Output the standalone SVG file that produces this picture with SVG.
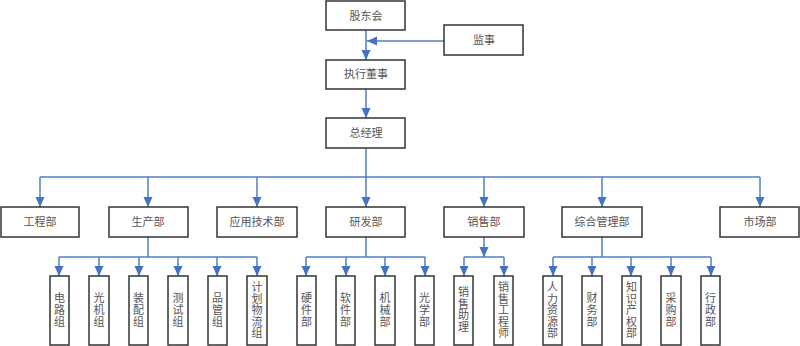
<svg xmlns="http://www.w3.org/2000/svg" width="800" height="346" viewBox="0 0 800 346">
<style>
.box{fill:#ffffff;stroke:#333333;stroke-width:1.5}
.t{font-family:"Liberation Serif","Noto Sans CJK SC",serif;font-size:11px;fill:#555555;text-anchor:middle;dominant-baseline:central}
.c{fill:none;stroke:#4F81BD;stroke-width:1.5}
.a{marker-end:url(#ah)}
</style>
<defs>
<marker id="ah" markerUnits="userSpaceOnUse" markerWidth="10" markerHeight="10" refX="10" refY="4.5" orient="auto">
<path d="M0,0 L10,4.5 L0,9 z" fill="#4472C4"/>
</marker>
</defs>
<rect width="800" height="346" fill="#ffffff"/>
<g id="connectors">
<line class="c a" x1="366" y1="30" x2="366" y2="60"/>
<line class="c a" x1="444" y1="41" x2="367" y2="41"/>
<line class="c a" x1="366" y1="89" x2="366" y2="118"/>
<line class="c" x1="366" y1="148" x2="366" y2="177"/>
<line class="c" x1="40" y1="177" x2="760" y2="177"/>
<line class="c a" x1="40" y1="177" x2="40" y2="207"/>
<line class="c a" x1="148" y1="177" x2="148" y2="207"/>
<line class="c a" x1="257" y1="177" x2="257" y2="207"/>
<line class="c a" x1="366" y1="177" x2="366" y2="207"/>
<line class="c a" x1="484" y1="177" x2="484" y2="207"/>
<line class="c a" x1="602" y1="177" x2="602" y2="207"/>
<line class="c a" x1="760" y1="177" x2="760" y2="207"/>
<line class="c" x1="148" y1="237" x2="148" y2="257"/>
<line class="c" x1="59" y1="257" x2="257" y2="257"/>
<line class="c a" x1="59" y1="257" x2="59" y2="276"/>
<line class="c a" x1="99" y1="257" x2="99" y2="276"/>
<line class="c a" x1="139" y1="257" x2="139" y2="276"/>
<line class="c a" x1="178" y1="257" x2="178" y2="276"/>
<line class="c a" x1="217" y1="257" x2="217" y2="276"/>
<line class="c a" x1="257" y1="257" x2="257" y2="276"/>
<line class="c" x1="366" y1="237" x2="366" y2="257"/>
<line class="c" x1="306" y1="257" x2="425" y2="257"/>
<line class="c a" x1="306" y1="257" x2="306" y2="276"/>
<line class="c a" x1="346" y1="257" x2="346" y2="276"/>
<line class="c a" x1="385" y1="257" x2="385" y2="276"/>
<line class="c a" x1="425" y1="257" x2="425" y2="276"/>
<line class="c a" x1="484" y1="237" x2="484" y2="257"/>
<line class="c" x1="464" y1="257" x2="504" y2="257"/>
<line class="c a" x1="464" y1="257" x2="464" y2="276"/>
<line class="c a" x1="504" y1="257" x2="504" y2="276"/>
<line class="c" x1="602" y1="237" x2="602" y2="257"/>
<line class="c" x1="553" y1="257" x2="711" y2="257"/>
<line class="c a" x1="553" y1="257" x2="553" y2="276"/>
<line class="c a" x1="592" y1="257" x2="592" y2="276"/>
<line class="c a" x1="631" y1="257" x2="631" y2="276"/>
<line class="c a" x1="671" y1="257" x2="671" y2="276"/>
<line class="c a" x1="711" y1="257" x2="711" y2="276"/>
</g>
<g id="gudonghui"><rect class="box" x="326" y="1" width="79" height="29"/><text class="t" x="366" y="16">股东会</text></g>
<g id="jianshi"><rect class="box" x="444" y="25" width="79" height="30"/><text class="t" x="484" y="40">监事</text></g>
<g id="zhixingdongshi"><rect class="box" x="326" y="60" width="79" height="29"/><text class="t" x="366" y="74">执行董事</text></g>
<g id="zongjingli"><rect class="box" x="326" y="118" width="79" height="30"/><text class="t" x="366" y="133">总经理</text></g>
<g id="gongchengbu"><rect class="box" x="1" y="207" width="78" height="30"/><text class="t" x="40" y="222">工程部</text></g>
<g id="shengchanbu"><rect class="box" x="109" y="207" width="79" height="30"/><text class="t" x="148" y="222">生产部</text></g>
<g id="yingyongjishubu"><rect class="box" x="217" y="207" width="80" height="30"/><text class="t" x="257" y="222">应用技术部</text></g>
<g id="yanfabu"><rect class="box" x="326" y="207" width="79" height="30"/><text class="t" x="366" y="222">研发部</text></g>
<g id="xiaoshoubu"><rect class="box" x="444" y="207" width="80" height="30"/><text class="t" x="484" y="222">销售部</text></g>
<g id="zongheguanlibu"><rect class="box" x="562" y="207" width="80" height="30"/><text class="t" x="602" y="222">综合管理部</text></g>
<g id="shichangbu"><rect class="box" x="720" y="207" width="79" height="30"/><text class="t" x="760" y="222">市场部</text></g>
<g id="dianluzu"><rect class="box" x="50" y="276" width="19" height="69"/><text class="t"><tspan x="59.5" y="298">电</tspan><tspan x="59.5" y="310">路</tspan><tspan x="59.5" y="322">组</tspan></text></g>
<g id="guangjizu"><rect class="box" x="89" y="276" width="20" height="69"/><text class="t"><tspan x="99" y="298">光</tspan><tspan x="99" y="310">机</tspan><tspan x="99" y="322">组</tspan></text></g>
<g id="zhuangpeizu"><rect class="box" x="129" y="276" width="19" height="69"/><text class="t"><tspan x="138.5" y="298">装</tspan><tspan x="138.5" y="310">配</tspan><tspan x="138.5" y="322">组</tspan></text></g>
<g id="ceshizu"><rect class="box" x="168" y="276" width="20" height="69"/><text class="t"><tspan x="178" y="298">测</tspan><tspan x="178" y="310">试</tspan><tspan x="178" y="322">组</tspan></text></g>
<g id="pinguanzu"><rect class="box" x="208" y="276" width="19" height="69"/><text class="t"><tspan x="217.5" y="298">品</tspan><tspan x="217.5" y="310">管</tspan><tspan x="217.5" y="322">组</tspan></text></g>
<g id="jihuawuliuzu"><rect class="box" x="247" y="276" width="20" height="69"/><text class="t"><tspan x="257" y="287">计</tspan><tspan x="257" y="298.5">划</tspan><tspan x="257" y="310">物</tspan><tspan x="257" y="321.5">流</tspan><tspan x="257" y="333">组</tspan></text></g>
<g id="yingjianbu"><rect class="box" x="297" y="276" width="19" height="69"/><text class="t"><tspan x="306.5" y="298">硬</tspan><tspan x="306.5" y="310">件</tspan><tspan x="306.5" y="322">部</tspan></text></g>
<g id="ruanjianbu"><rect class="box" x="336" y="276" width="19" height="69"/><text class="t"><tspan x="345.5" y="298">软</tspan><tspan x="345.5" y="310">件</tspan><tspan x="345.5" y="322">部</tspan></text></g>
<g id="jixiebu"><rect class="box" x="375" y="276" width="20" height="69"/><text class="t"><tspan x="385" y="298">机</tspan><tspan x="385" y="310">械</tspan><tspan x="385" y="322">部</tspan></text></g>
<g id="guangxuebu"><rect class="box" x="415" y="276" width="19" height="69"/><text class="t"><tspan x="424.5" y="298">光</tspan><tspan x="424.5" y="310">学</tspan><tspan x="424.5" y="322">部</tspan></text></g>
<g id="xiaoshouzhuli"><rect class="box" x="454" y="276" width="19" height="69"/><text class="t"><tspan x="463.5" y="292">销</tspan><tspan x="463.5" y="303.5">售</tspan><tspan x="463.5" y="315">助</tspan><tspan x="463.5" y="326.5">理</tspan></text></g>
<g id="xiaoshougongchengshi"><rect class="box" x="494" y="276" width="19" height="69"/><text class="t"><tspan x="503.5" y="287">销</tspan><tspan x="503.5" y="298.5">售</tspan><tspan x="503.5" y="310">工</tspan><tspan x="503.5" y="321.5">程</tspan><tspan x="503.5" y="333">师</tspan></text></g>
<g id="renliziyuanbu"><rect class="box" x="543" y="276" width="19" height="69"/><text class="t"><tspan x="552.5" y="287">人</tspan><tspan x="552.5" y="298.5">力</tspan><tspan x="552.5" y="310">资</tspan><tspan x="552.5" y="321.5">源</tspan><tspan x="552.5" y="333">部</tspan></text></g>
<g id="caiwubu"><rect class="box" x="582" y="276" width="20" height="69"/><text class="t"><tspan x="592" y="298">财</tspan><tspan x="592" y="310">务</tspan><tspan x="592" y="322">部</tspan></text></g>
<g id="zhishichanquanbu"><rect class="box" x="622" y="276" width="19" height="69"/><text class="t"><tspan x="631.5" y="287">知</tspan><tspan x="631.5" y="298.5">识</tspan><tspan x="631.5" y="310">产</tspan><tspan x="631.5" y="321.5">权</tspan><tspan x="631.5" y="333">部</tspan></text></g>
<g id="caigoubu"><rect class="box" x="661" y="276" width="20" height="69"/><text class="t"><tspan x="671" y="298">采</tspan><tspan x="671" y="310">购</tspan><tspan x="671" y="322">部</tspan></text></g>
<g id="xingzhengbu"><rect class="box" x="701" y="276" width="19" height="69"/><text class="t"><tspan x="710.5" y="298">行</tspan><tspan x="710.5" y="310">政</tspan><tspan x="710.5" y="322">部</tspan></text></g>
</svg>
